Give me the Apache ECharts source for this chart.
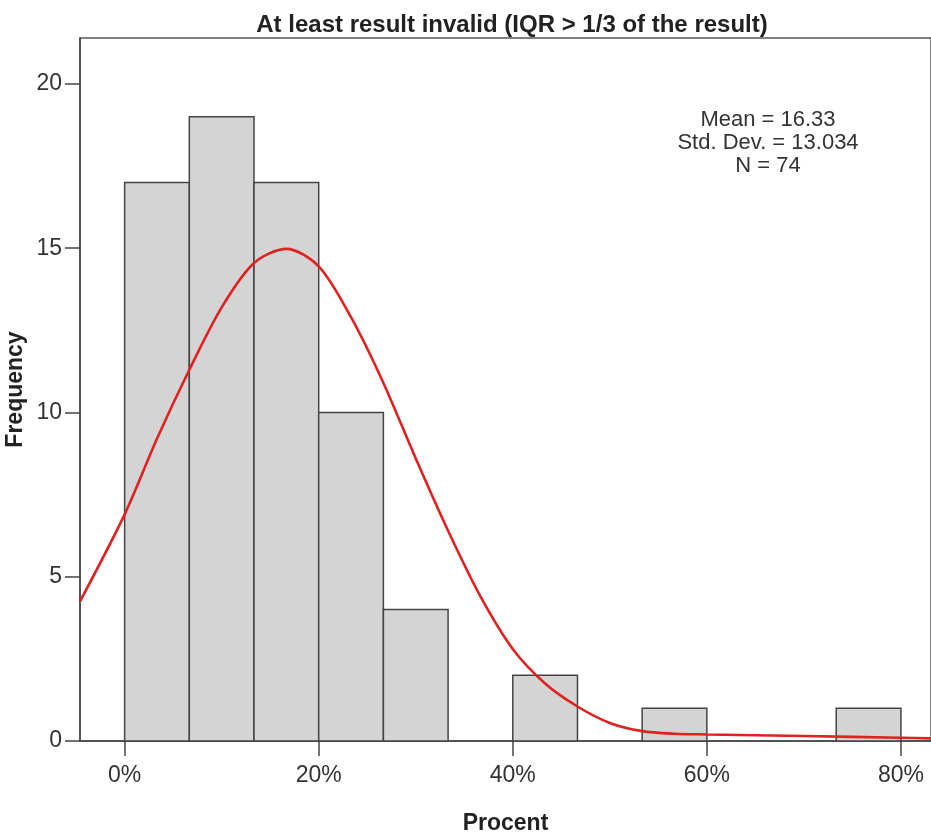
<!DOCTYPE html>
<html>
<head>
<meta charset="utf-8">
<script src="https://cdn.jsdelivr.net/npm/echarts@6/dist/echarts.min.js"></script>
<style>
  html, body { margin: 0; padding: 0; background: #fff; }
  #chart { width: 931px; height: 835px; }
</style>
</head>
<body>
<div id="chart"></div>
<script>
// histogram bins (percent) and counts
var binEdges = [0, 6.667, 13.333, 20, 26.667, 33.333, 40, 46.667, 53.333, 60, 66.667, 73.333, 80];
var binCounts = [17, 19, 17, 10, 4, 0, 2, 0, 1, 0, 0, 1];

// normal curve: x (percent), frequency
var curveX = [-4.6, 0, 3.33, 6.667, 10, 13.333, 16.667, 20, 23.33, 26.667, 30, 33.333, 36.667, 40, 43.33, 46.667, 50, 53.33, 56.67, 60, 70, 80, 83.1];
var curveY = [4.25, 6.9, 9.2, 11.3, 13.2, 14.55, 14.98, 14.45, 12.9, 10.9, 8.6, 6.4, 4.4, 2.8, 1.75, 1.05, 0.55, 0.3, 0.22, 0.2, 0.15, 0.1, 0.08];

var xTicks = [0, 20, 40, 60, 80];
var statsLines = ['Mean = 16.33', 'Std. Dev. = 13.034', 'N = 74'];

var bars = [];
for (var i = 0; i < binCounts.length; i++) {
  if (binCounts[i] > 0) bars.push([binEdges[i], binEdges[i + 1], binCounts[i]]);
}
var curve = curveX.map(function (x, i) { return [x, curveY[i]]; });

var font = 'Liberation Sans, Arial, sans-serif';
var chart = echarts.init(document.getElementById('chart'));

var option = {
  animation: false,
  backgroundColor: '#fff',
  title: {
    text: 'At least result invalid (IQR > 1/3 of the result)',
    left: 512,
    textAlign: 'center',
    top: 13,
    padding: 0,
    textStyle: { fontFamily: font, fontSize: 24, fontWeight: 'bold', color: '#222' }
  },
  grid: {
    left: 80, top: 38, right: 0, bottom: 94,
    outerBoundsMode: 'none',
    containLabel: false,
    show: true, borderColor: '#555', borderWidth: 1.5, backgroundColor: 'transparent'
  },
  xAxis: {
    type: 'value',
    min: -4.6,
    max: 83.1,
    name: 'Procent',
    nameLocation: 'middle',
    nameGap: 71,
    nameMoveOverlap: false,
    nameTextStyle: { fontFamily: font, fontSize: 23, fontWeight: 'bold', color: '#222' },
    splitLine: { show: false },
    axisLine: { show: true, onZero: false, lineStyle: { color: '#444', width: 1.5 } },
    axisTick: { show: true, length: 15, customValues: xTicks, lineStyle: { color: '#444', width: 1.5 } },
    axisLabel: {
      customValues: xTicks,
      margin: 23,
      fontFamily: font, fontSize: 23, color: '#333',
      formatter: function (v) { return v + '%'; }
    }
  },
  yAxis: {
    type: 'value',
    min: 0,
    max: 21.4,
    interval: 5,
    name: 'Frequency',
    nameLocation: 'middle',
    nameGap: 53,
    nameMoveOverlap: false,
    nameTextStyle: { fontFamily: font, fontSize: 23, fontWeight: 'bold', color: '#222' },
    splitLine: { show: false },
    axisLine: { show: true, onZero: false, lineStyle: { color: '#444', width: 1.5 } },
    axisTick: { show: true, length: 15, lineStyle: { color: '#444', width: 1.5 } },
    axisLabel: { margin: 18, fontFamily: font, fontSize: 23, color: '#333',
      showMaxLabel: false,
      formatter: function (v) { return v % 5 === 0 ? String(v) : ''; } }
  },
  graphic: [{
    type: 'text',
    x: 768,
    y: 108,
    style: {
      text: statsLines.join('\n'),
      textAlign: 'center',
      textVerticalAlign: 'top',
      lineHeight: 23,
      font: '22px ' + font,
      fill: '#333'
    }
  }],
  series: [
    {
      type: 'custom',
      data: bars,
      renderItem: function (params, api) {
        var p0 = api.coord([api.value(0), api.value(2)]);
        var p1 = api.coord([api.value(1), 0]);
        return {
          type: 'rect',
          shape: { x: p0[0], y: p0[1], width: p1[0] - p0[0], height: p1[1] - p0[1] },
          style: { fill: '#d4d4d4', stroke: '#444', lineWidth: 1.5 }
        };
      },
      encode: { x: [0, 1], y: 2 },
      z: 2
    },
    {
      type: 'line',
      data: curve,
      smooth: 0.3,
      showSymbol: false,
      lineStyle: { color: '#e0211f', width: 2.6 },
      z: 3
    }
  ]
};
chart.setOption(option);
</script>
</body>
</html>
